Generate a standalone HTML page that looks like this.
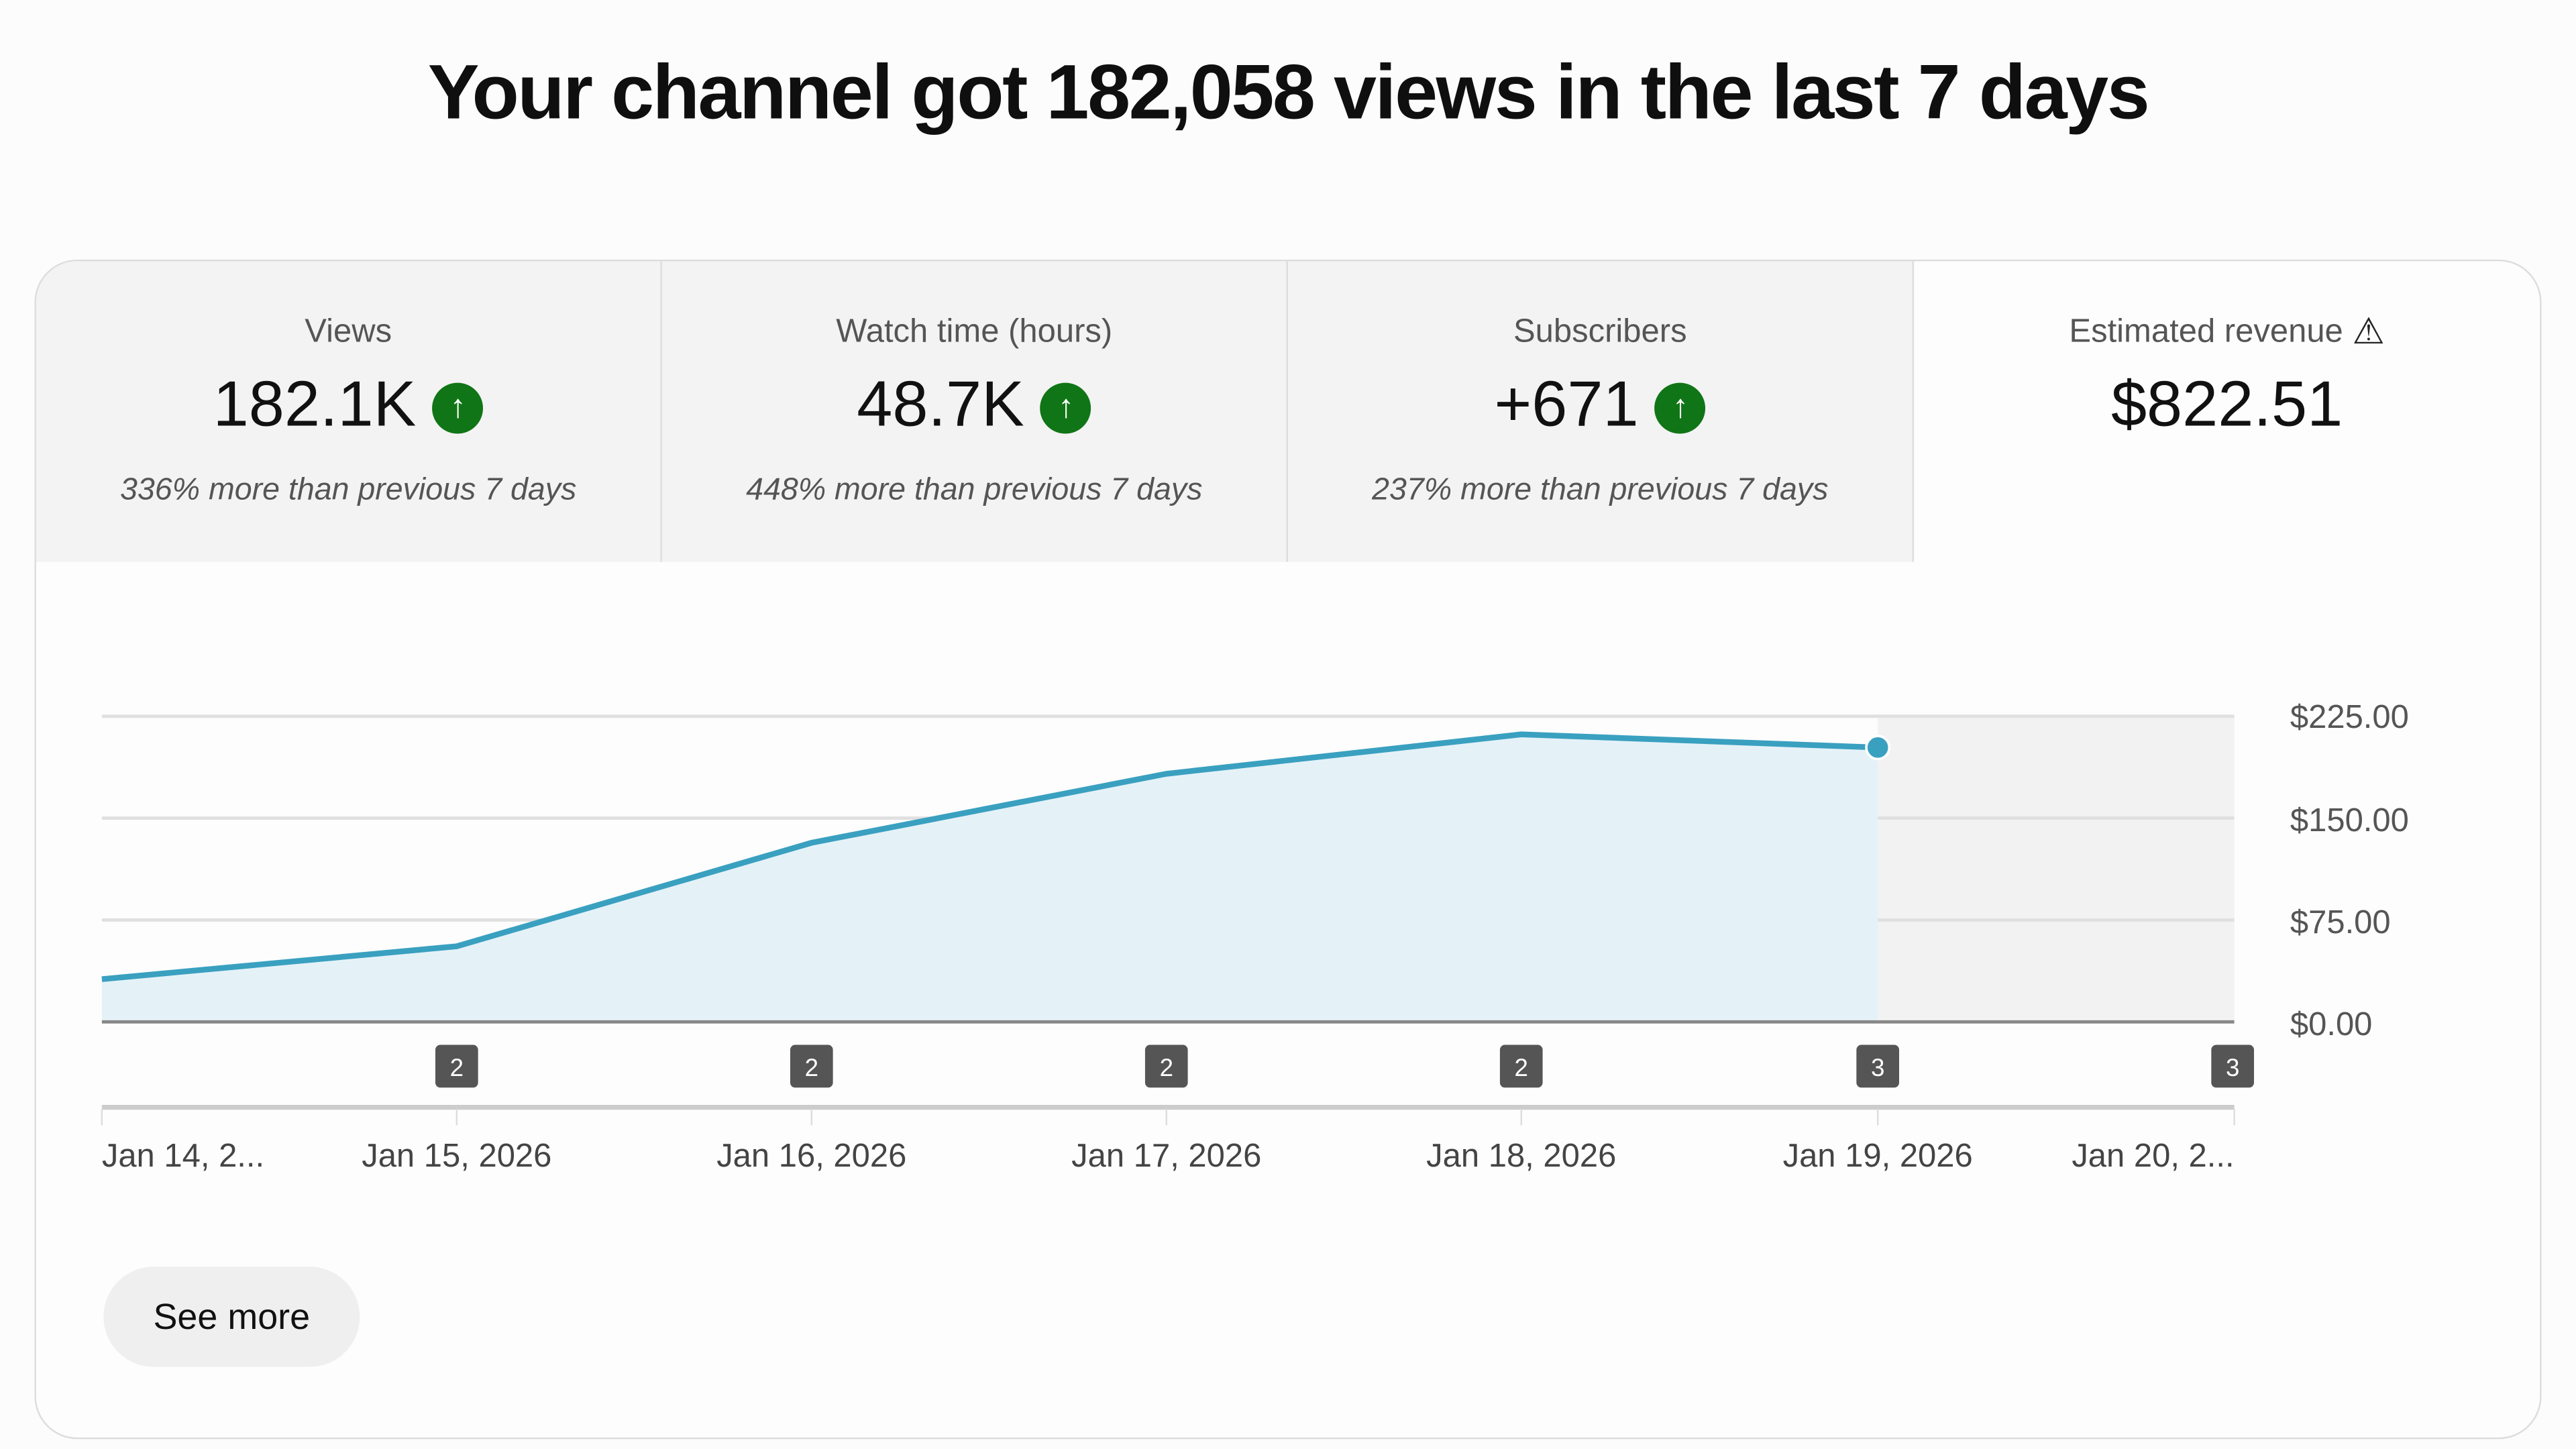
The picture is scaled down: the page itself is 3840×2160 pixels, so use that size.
<!DOCTYPE html>
<html><head><style>
html,body{margin:0;padding:0;width:3840px;height:2160px;overflow:hidden;background:#fcfcfc;}
#s{position:absolute;left:0;top:0;width:1568px;height:882px;transform:scale(2.44898);transform-origin:0 0;font-family:"Liberation Sans",Arial,sans-serif;color:#0f0f0f;}
.t{position:absolute;left:0;width:1568px;top:28px;text-align:center;font-size:47px;font-weight:bold;letter-spacing:-1px;}
.card{position:absolute;left:21px;top:158px;width:1524px;height:716px;border:1.5px solid #ddd;border-radius:26px;background:#fdfdfd;overflow:hidden;}
.tab{position:absolute;top:0;height:183px;width:381px;box-sizing:border-box;background:#f3f3f3;border-right:1px solid #ddd;text-align:center;}
.lab{position:absolute;top:32px;width:100%;font-size:20px;color:#555;}
.val{position:absolute;top:66px;width:100%;font-size:39px;color:#111;}
.sub{position:absolute;top:129px;width:100%;font-size:19px;font-style:italic;color:#555;}
.up{display:inline-block;width:31px;height:31px;border-radius:50%;background:#107516;color:#fff;font-size:20px;line-height:31px;vertical-align:5px;margin-left:10px;font-weight:bold;}
.btn{position:absolute;left:41px;top:612px;width:156px;height:61px;border-radius:31px;background:#efefef;font-size:22px;line-height:61px;text-align:center;color:#111;}
</style></head><body><div id="s">
<div class="t">Your channel got 182,058 views in the last 7 days</div>
<div class="card">
<div class="tab" style="left:0"><div class="lab">Views</div><div class="val">182.1K<span class="up">↑</span></div><div class="sub">336% more than previous 7 days</div></div>
<div class="tab" style="left:381px"><div class="lab">Watch time (hours)</div><div class="val">48.7K<span class="up">↑</span></div><div class="sub">448% more than previous 7 days</div></div>
<div class="tab" style="left:762px"><div class="lab">Subscribers</div><div class="val">+671<span class="up">↑</span></div><div class="sub">237% more than previous 7 days</div></div>
<div class="tab" style="left:1143px;width:381px;background:transparent;border:none"><div class="lab" style="line-height:20px">Estimated revenue <span style="font-size:22px;color:#222;position:relative;top:1px;line-height:20px">⚠</span></div><div class="val">$822.51</div></div>
<div class="btn">See more</div>
</div>
<svg style="position:absolute;left:0;top:0" width="1568" height="882" font-family="Liberation Sans, Arial, sans-serif">
<rect x="1143" y="436" width="217" height="186" fill="#f2f2f2"/>
<g stroke="#e0e0e0" stroke-width="2"><line x1="62" y1="436" x2="1360" y2="436"/><line x1="62" y1="498" x2="1360" y2="498"/><line x1="62" y1="560" x2="1360" y2="560"/></g>
<polygon points="62,596 278,576 494,513 710,471 926,447 1143,455 1143,622 62,622" fill="#e4f2f8"/>
<polyline points="62,596 278,576 494,513 710,471 926,447 1143,455" fill="none" stroke="#3aa0c0" stroke-width="3.5"/>
<circle cx="1143" cy="455" r="7" fill="#3aa0c0" stroke="#fff" stroke-width="1.5"/>
<line x1="62" y1="622" x2="1360" y2="622" stroke="#888" stroke-width="2"/>
<line x1="62" y1="674" x2="1360" y2="674" stroke="#ccc" stroke-width="3"/>
<g stroke="#ddd" stroke-width="1"><line x1="62" y1="675" x2="62" y2="685"/><line x1="278" y1="675" x2="278" y2="685"/><line x1="494" y1="675" x2="494" y2="685"/><line x1="710" y1="675" x2="710" y2="685"/><line x1="926" y1="675" x2="926" y2="685"/><line x1="1143" y1="675" x2="1143" y2="685"/><line x1="1360" y1="675" x2="1360" y2="685"/></g>
<g fill="#555"><rect x="265" y="636" width="26" height="26" rx="3"/><rect x="481" y="636" width="26" height="26" rx="3"/><rect x="697" y="636" width="26" height="26" rx="3"/><rect x="913" y="636" width="26" height="26" rx="3"/><rect x="1130" y="636" width="26" height="26" rx="3"/><rect x="1346" y="636" width="26" height="26" rx="3"/></g>
<g fill="#fff" font-size="15" text-anchor="middle"><text x="278" y="655">2</text><text x="494" y="655">2</text><text x="710" y="655">2</text><text x="926" y="655">2</text><text x="1143" y="655">3</text><text x="1359" y="655">3</text></g>
<g fill="#555" font-size="20"><text x="1394" y="443">$225.00</text><text x="1394" y="506">$150.00</text><text x="1394" y="568">$75.00</text><text x="1394" y="630">$0.00</text></g>
<g fill="#444" font-size="20"><text x="62" y="710">Jan 14, 2...</text><text x="278" y="710" text-anchor="middle">Jan 15, 2026</text><text x="494" y="710" text-anchor="middle">Jan 16, 2026</text><text x="710" y="710" text-anchor="middle">Jan 17, 2026</text><text x="926" y="710" text-anchor="middle">Jan 18, 2026</text><text x="1143" y="710" text-anchor="middle">Jan 19, 2026</text><text x="1360" y="710" text-anchor="end">Jan 20, 2...</text></g>
</svg>
</div></body></html>
